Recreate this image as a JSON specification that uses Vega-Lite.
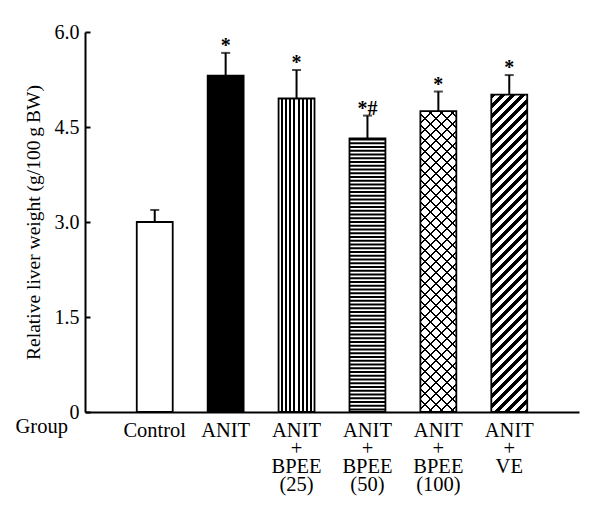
{
"$schema": "https://vega.github.io/schema/vega-lite/v6.json",
"width": 494,
"height": 380,
"autosize": "none",
"padding": {"left": 85, "top": 32, "right": 21, "bottom": 118},
"background": "white",
"config": {"view": {"stroke": null}, "font": "Liberation Serif"},
"data": {"values": [
{"group": "Control", "value": 3.0, "upper": 3.19, "sig": ""},
{"group": "ANIT", "value": 5.31, "upper": 5.67, "sig": "*"},
{"group": "ANIT + BPEE (25)", "value": 4.95, "upper": 5.4, "sig": "*"},
{"group": "ANIT + BPEE (50)", "value": 4.32, "upper": 4.68, "sig": "*#"},
{"group": "ANIT + BPEE (100)", "value": 4.75, "upper": 5.06, "sig": "*"},
{"group": "ANIT + VE", "value": 5.01, "upper": 5.32, "sig": "*"}
]},
"encoding": {
"x": {"field": "group", "type": "nominal", "sort": null, "title": "Group",
"scale": {"paddingInner": 0.493, "paddingOuter": 0.73},
"axis": {"labelAngle": 0, "labelExpr": "split(datum.value, ' ')", "labelFont": "Liberation Serif", "labelFontSize": 20.5, "labelColor": "black", "labelLineHeight": 18, "labelPadding": 8, "labelBaseline": "top", "labelOverlap": false, "labelBound": false, "ticks": false, "tickSize": 0, "domainColor": "black", "domainWidth": 2, "titleFont": "Liberation Serif", "titleFontSize": 20.5, "titleFontWeight": "normal", "titleColor": "black", "titleX": -70, "titleY": 20, "titleAlign": "left", "titleBaseline": "alphabetic", "titleAngle": 0}},
"y": {"field": "value", "type": "quantitative", "title": "Relative liver weight (g/100\u2009g\u2009BW)",
"scale": {"domain": [0, 6], "nice": false},
"axis": {"values": [0, 1.5, 3, 4.5, 6], "labelExpr": "datum.value === 0 ? '0' : format(datum.value, '.1f')", "grid": false, "tickSize": -5, "tickWidth": 2, "tickColor": "black", "domainColor": "black", "domainWidth": 2, "labelFont": "Liberation Serif", "labelFontSize": 20, "labelColor": "black", "labelPadding": 11, "titleFont": "Liberation Serif", "titleFontSize": 19.5, "titleFontWeight": "normal", "titleColor": "black", "titleX": -46, "titleY": 190, "titleAlign": "center", "titleBaseline": "alphabetic", "titleAngle": -90}}
},
"layer": [
{"mark": {"type": "bar", "strokeWidth": 0},
 "encoding": {"fill": {"condition": {"test": "datum.group === 'ANIT'", "value": "black"}, "value": "white"}}},
{"transform": [{"filter": "datum.group === 'ANIT + BPEE (25)'"}],
 "mark": {"type": "bar", "strokeWidth": 0, "fill": {"gradient": "linear", "x1": 0, "y1": 0, "x2": 1, "y2": 0, "stops": [
{"offset":0,"color":"#fff"},{"offset":0.0588,"color":"#fff"},{"offset":0.0588,"color":"#000"},{"offset":0.1176,"color":"#000"},{"offset":0.1176,"color":"#fff"},{"offset":0.1765,"color":"#fff"},{"offset":0.1765,"color":"#000"},{"offset":0.2353,"color":"#000"},{"offset":0.2353,"color":"#fff"},{"offset":0.2941,"color":"#fff"},{"offset":0.2941,"color":"#000"},{"offset":0.3529,"color":"#000"},{"offset":0.3529,"color":"#fff"},{"offset":0.4118,"color":"#fff"},{"offset":0.4118,"color":"#000"},{"offset":0.4706,"color":"#000"},{"offset":0.4706,"color":"#fff"},{"offset":0.5294,"color":"#fff"},{"offset":0.5294,"color":"#000"},{"offset":0.5882,"color":"#000"},{"offset":0.5882,"color":"#fff"},{"offset":0.6471,"color":"#fff"},{"offset":0.6471,"color":"#000"},{"offset":0.7059,"color":"#000"},{"offset":0.7059,"color":"#fff"},{"offset":0.7647,"color":"#fff"},{"offset":0.7647,"color":"#000"},{"offset":0.8235,"color":"#000"},{"offset":0.8235,"color":"#fff"},{"offset":0.8824,"color":"#fff"},{"offset":0.8824,"color":"#000"},{"offset":0.9412,"color":"#000"},{"offset":0.9412,"color":"#fff"},{"offset":1,"color":"#fff"}
 ]}}},
{"transform": [{"filter": "datum.group === 'ANIT + BPEE (50)'"}],
 "mark": {"type": "rule", "color": "black", "strokeWidth": 36, "strokeCap": "butt", "strokeDash": [2, 1.75]},
 "encoding": {"y2": {"datum": 0}}},
{"transform": [{"filter": "datum.group === 'ANIT + BPEE (100)'"}],
 "mark": {"type": "bar", "strokeWidth": 0, "fill": {"gradient": "linear", "x1": 0, "y1": 0, "x2": 0.2154, "y2": 1.8035, "stops": [
{"offset":0,"color":"#000"},{"offset":0.004,"color":"#000"},{"offset":0.004,"color":"transparent"},
{"offset":0.02,"color":"transparent"},{"offset":0.02,"color":"#000"},{"offset":0.024,"color":"#000"},{"offset":0.024,"color":"transparent"},
{"offset":0.04,"color":"transparent"},{"offset":0.04,"color":"#000"},{"offset":0.044,"color":"#000"},{"offset":0.044,"color":"transparent"},
{"offset":0.06,"color":"transparent"},{"offset":0.06,"color":"#000"},{"offset":0.064,"color":"#000"},{"offset":0.064,"color":"transparent"},
{"offset":0.08,"color":"transparent"},{"offset":0.08,"color":"#000"},{"offset":0.084,"color":"#000"},{"offset":0.084,"color":"transparent"},
{"offset":0.1,"color":"transparent"},{"offset":0.1,"color":"#000"},{"offset":0.104,"color":"#000"},{"offset":0.104,"color":"transparent"},
{"offset":0.12,"color":"transparent"},{"offset":0.12,"color":"#000"},{"offset":0.124,"color":"#000"},{"offset":0.124,"color":"transparent"},
{"offset":0.14,"color":"transparent"},{"offset":0.14,"color":"#000"},{"offset":0.144,"color":"#000"},{"offset":0.144,"color":"transparent"},
{"offset":0.16,"color":"transparent"},{"offset":0.16,"color":"#000"},{"offset":0.164,"color":"#000"},{"offset":0.164,"color":"transparent"},
{"offset":0.18,"color":"transparent"},{"offset":0.18,"color":"#000"},{"offset":0.184,"color":"#000"},{"offset":0.184,"color":"transparent"},
{"offset":0.2,"color":"transparent"},{"offset":0.2,"color":"#000"},{"offset":0.204,"color":"#000"},{"offset":0.204,"color":"transparent"},
{"offset":0.22,"color":"transparent"},{"offset":0.22,"color":"#000"},{"offset":0.224,"color":"#000"},{"offset":0.224,"color":"transparent"},
{"offset":0.24,"color":"transparent"},{"offset":0.24,"color":"#000"},{"offset":0.244,"color":"#000"},{"offset":0.244,"color":"transparent"},
{"offset":0.26,"color":"transparent"},{"offset":0.26,"color":"#000"},{"offset":0.264,"color":"#000"},{"offset":0.264,"color":"transparent"},
{"offset":0.28,"color":"transparent"},{"offset":0.28,"color":"#000"},{"offset":0.284,"color":"#000"},{"offset":0.284,"color":"transparent"},
{"offset":0.3,"color":"transparent"},{"offset":0.3,"color":"#000"},{"offset":0.304,"color":"#000"},{"offset":0.304,"color":"transparent"},
{"offset":0.32,"color":"transparent"},{"offset":0.32,"color":"#000"},{"offset":0.324,"color":"#000"},{"offset":0.324,"color":"transparent"},
{"offset":0.34,"color":"transparent"},{"offset":0.34,"color":"#000"},{"offset":0.344,"color":"#000"},{"offset":0.344,"color":"transparent"},
{"offset":0.36,"color":"transparent"},{"offset":0.36,"color":"#000"},{"offset":0.364,"color":"#000"},{"offset":0.364,"color":"transparent"},
{"offset":0.38,"color":"transparent"},{"offset":0.38,"color":"#000"},{"offset":0.384,"color":"#000"},{"offset":0.384,"color":"transparent"},
{"offset":0.4,"color":"transparent"},{"offset":0.4,"color":"#000"},{"offset":0.404,"color":"#000"},{"offset":0.404,"color":"transparent"},
{"offset":0.42,"color":"transparent"},{"offset":0.42,"color":"#000"},{"offset":0.424,"color":"#000"},{"offset":0.424,"color":"transparent"},
{"offset":0.44,"color":"transparent"},{"offset":0.44,"color":"#000"},{"offset":0.444,"color":"#000"},{"offset":0.444,"color":"transparent"},
{"offset":0.46,"color":"transparent"},{"offset":0.46,"color":"#000"},{"offset":0.464,"color":"#000"},{"offset":0.464,"color":"transparent"},
{"offset":0.48,"color":"transparent"},{"offset":0.48,"color":"#000"},{"offset":0.484,"color":"#000"},{"offset":0.484,"color":"transparent"},
{"offset":0.5,"color":"transparent"},{"offset":0.5,"color":"#000"},{"offset":0.504,"color":"#000"},{"offset":0.504,"color":"transparent"},
{"offset":0.52,"color":"transparent"},{"offset":0.52,"color":"#000"},{"offset":0.524,"color":"#000"},{"offset":0.524,"color":"transparent"},
{"offset":0.54,"color":"transparent"},{"offset":0.54,"color":"#000"},{"offset":0.544,"color":"#000"},{"offset":0.544,"color":"transparent"},
{"offset":0.56,"color":"transparent"},{"offset":0.56,"color":"#000"},{"offset":0.564,"color":"#000"},{"offset":0.564,"color":"transparent"},
{"offset":0.58,"color":"transparent"},{"offset":0.58,"color":"#000"},{"offset":0.584,"color":"#000"},{"offset":0.584,"color":"transparent"},
{"offset":0.6,"color":"transparent"},{"offset":0.6,"color":"#000"},{"offset":0.604,"color":"#000"},{"offset":0.604,"color":"transparent"},
{"offset":0.62,"color":"transparent"},{"offset":0.62,"color":"#000"},{"offset":0.624,"color":"#000"},{"offset":0.624,"color":"transparent"}
 ]}}},
{"transform": [{"filter": "datum.group === 'ANIT + BPEE (100)'"}],
 "mark": {"type": "bar", "strokeWidth": 0, "fill": {"gradient": "linear", "x1": 0, "y1": 1, "x2": 0.2154, "y2": -0.8035, "stops": [
{"offset":0,"color":"#000"},{"offset":0.004,"color":"#000"},{"offset":0.004,"color":"transparent"},
{"offset":0.02,"color":"transparent"},{"offset":0.02,"color":"#000"},{"offset":0.024,"color":"#000"},{"offset":0.024,"color":"transparent"},
{"offset":0.04,"color":"transparent"},{"offset":0.04,"color":"#000"},{"offset":0.044,"color":"#000"},{"offset":0.044,"color":"transparent"},
{"offset":0.06,"color":"transparent"},{"offset":0.06,"color":"#000"},{"offset":0.064,"color":"#000"},{"offset":0.064,"color":"transparent"},
{"offset":0.08,"color":"transparent"},{"offset":0.08,"color":"#000"},{"offset":0.084,"color":"#000"},{"offset":0.084,"color":"transparent"},
{"offset":0.1,"color":"transparent"},{"offset":0.1,"color":"#000"},{"offset":0.104,"color":"#000"},{"offset":0.104,"color":"transparent"},
{"offset":0.12,"color":"transparent"},{"offset":0.12,"color":"#000"},{"offset":0.124,"color":"#000"},{"offset":0.124,"color":"transparent"},
{"offset":0.14,"color":"transparent"},{"offset":0.14,"color":"#000"},{"offset":0.144,"color":"#000"},{"offset":0.144,"color":"transparent"},
{"offset":0.16,"color":"transparent"},{"offset":0.16,"color":"#000"},{"offset":0.164,"color":"#000"},{"offset":0.164,"color":"transparent"},
{"offset":0.18,"color":"transparent"},{"offset":0.18,"color":"#000"},{"offset":0.184,"color":"#000"},{"offset":0.184,"color":"transparent"},
{"offset":0.2,"color":"transparent"},{"offset":0.2,"color":"#000"},{"offset":0.204,"color":"#000"},{"offset":0.204,"color":"transparent"},
{"offset":0.22,"color":"transparent"},{"offset":0.22,"color":"#000"},{"offset":0.224,"color":"#000"},{"offset":0.224,"color":"transparent"},
{"offset":0.24,"color":"transparent"},{"offset":0.24,"color":"#000"},{"offset":0.244,"color":"#000"},{"offset":0.244,"color":"transparent"},
{"offset":0.26,"color":"transparent"},{"offset":0.26,"color":"#000"},{"offset":0.264,"color":"#000"},{"offset":0.264,"color":"transparent"},
{"offset":0.28,"color":"transparent"},{"offset":0.28,"color":"#000"},{"offset":0.284,"color":"#000"},{"offset":0.284,"color":"transparent"},
{"offset":0.3,"color":"transparent"},{"offset":0.3,"color":"#000"},{"offset":0.304,"color":"#000"},{"offset":0.304,"color":"transparent"},
{"offset":0.32,"color":"transparent"},{"offset":0.32,"color":"#000"},{"offset":0.324,"color":"#000"},{"offset":0.324,"color":"transparent"},
{"offset":0.34,"color":"transparent"},{"offset":0.34,"color":"#000"},{"offset":0.344,"color":"#000"},{"offset":0.344,"color":"transparent"},
{"offset":0.36,"color":"transparent"},{"offset":0.36,"color":"#000"},{"offset":0.364,"color":"#000"},{"offset":0.364,"color":"transparent"},
{"offset":0.38,"color":"transparent"},{"offset":0.38,"color":"#000"},{"offset":0.384,"color":"#000"},{"offset":0.384,"color":"transparent"},
{"offset":0.4,"color":"transparent"},{"offset":0.4,"color":"#000"},{"offset":0.404,"color":"#000"},{"offset":0.404,"color":"transparent"},
{"offset":0.42,"color":"transparent"},{"offset":0.42,"color":"#000"},{"offset":0.424,"color":"#000"},{"offset":0.424,"color":"transparent"},
{"offset":0.44,"color":"transparent"},{"offset":0.44,"color":"#000"},{"offset":0.444,"color":"#000"},{"offset":0.444,"color":"transparent"},
{"offset":0.46,"color":"transparent"},{"offset":0.46,"color":"#000"},{"offset":0.464,"color":"#000"},{"offset":0.464,"color":"transparent"},
{"offset":0.48,"color":"transparent"},{"offset":0.48,"color":"#000"},{"offset":0.484,"color":"#000"},{"offset":0.484,"color":"transparent"},
{"offset":0.5,"color":"transparent"},{"offset":0.5,"color":"#000"},{"offset":0.504,"color":"#000"},{"offset":0.504,"color":"transparent"},
{"offset":0.52,"color":"transparent"},{"offset":0.52,"color":"#000"},{"offset":0.524,"color":"#000"},{"offset":0.524,"color":"transparent"},
{"offset":0.54,"color":"transparent"},{"offset":0.54,"color":"#000"},{"offset":0.544,"color":"#000"},{"offset":0.544,"color":"transparent"},
{"offset":0.56,"color":"transparent"},{"offset":0.56,"color":"#000"},{"offset":0.564,"color":"#000"},{"offset":0.564,"color":"transparent"},
{"offset":0.58,"color":"transparent"},{"offset":0.58,"color":"#000"},{"offset":0.584,"color":"#000"},{"offset":0.584,"color":"transparent"},
{"offset":0.6,"color":"transparent"},{"offset":0.6,"color":"#000"},{"offset":0.604,"color":"#000"},{"offset":0.604,"color":"transparent"},
{"offset":0.62,"color":"transparent"},{"offset":0.62,"color":"#000"},{"offset":0.624,"color":"#000"},{"offset":0.624,"color":"transparent"}
 ]}}},
{"transform": [{"filter": "datum.group === 'ANIT + VE'"}],
 "mark": {"type": "bar", "strokeWidth": 0, "fill": {"gradient": "linear", "x1": 0, "y1": 0, "x2": 0.1757, "y2": 1.5525, "stops": [
{"offset":0,"color":"#000"},
{"offset":0.01,"color":"#000"},{"offset":0.01,"color":"#fff"},
{"offset":0.02,"color":"#fff"},{"offset":0.02,"color":"#000"},
{"offset":0.03,"color":"#000"},{"offset":0.03,"color":"#fff"},
{"offset":0.04,"color":"#fff"},{"offset":0.04,"color":"#000"},
{"offset":0.05,"color":"#000"},{"offset":0.05,"color":"#fff"},
{"offset":0.06,"color":"#fff"},{"offset":0.06,"color":"#000"},
{"offset":0.07,"color":"#000"},{"offset":0.07,"color":"#fff"},
{"offset":0.08,"color":"#fff"},{"offset":0.08,"color":"#000"},
{"offset":0.09,"color":"#000"},{"offset":0.09,"color":"#fff"},
{"offset":0.1,"color":"#fff"},{"offset":0.1,"color":"#000"},
{"offset":0.11,"color":"#000"},{"offset":0.11,"color":"#fff"},
{"offset":0.12,"color":"#fff"},{"offset":0.12,"color":"#000"},
{"offset":0.13,"color":"#000"},{"offset":0.13,"color":"#fff"},
{"offset":0.14,"color":"#fff"},{"offset":0.14,"color":"#000"},
{"offset":0.15,"color":"#000"},{"offset":0.15,"color":"#fff"},
{"offset":0.16,"color":"#fff"},{"offset":0.16,"color":"#000"},
{"offset":0.17,"color":"#000"},{"offset":0.17,"color":"#fff"},
{"offset":0.18,"color":"#fff"},{"offset":0.18,"color":"#000"},
{"offset":0.19,"color":"#000"},{"offset":0.19,"color":"#fff"},
{"offset":0.2,"color":"#fff"},{"offset":0.2,"color":"#000"},
{"offset":0.21,"color":"#000"},{"offset":0.21,"color":"#fff"},
{"offset":0.22,"color":"#fff"},{"offset":0.22,"color":"#000"},
{"offset":0.23,"color":"#000"},{"offset":0.23,"color":"#fff"},
{"offset":0.24,"color":"#fff"},{"offset":0.24,"color":"#000"},
{"offset":0.25,"color":"#000"},{"offset":0.25,"color":"#fff"},
{"offset":0.26,"color":"#fff"},{"offset":0.26,"color":"#000"},
{"offset":0.27,"color":"#000"},{"offset":0.27,"color":"#fff"},
{"offset":0.28,"color":"#fff"},{"offset":0.28,"color":"#000"},
{"offset":0.29,"color":"#000"},{"offset":0.29,"color":"#fff"},
{"offset":0.3,"color":"#fff"},{"offset":0.3,"color":"#000"},
{"offset":0.31,"color":"#000"},{"offset":0.31,"color":"#fff"},
{"offset":0.32,"color":"#fff"},{"offset":0.32,"color":"#000"},
{"offset":0.33,"color":"#000"},{"offset":0.33,"color":"#fff"},
{"offset":0.34,"color":"#fff"},{"offset":0.34,"color":"#000"},
{"offset":0.35,"color":"#000"},{"offset":0.35,"color":"#fff"},
{"offset":0.36,"color":"#fff"},{"offset":0.36,"color":"#000"},
{"offset":0.37,"color":"#000"},{"offset":0.37,"color":"#fff"},
{"offset":0.38,"color":"#fff"},{"offset":0.38,"color":"#000"},
{"offset":0.39,"color":"#000"},{"offset":0.39,"color":"#fff"},
{"offset":0.4,"color":"#fff"},{"offset":0.4,"color":"#000"},
{"offset":0.41,"color":"#000"},{"offset":0.41,"color":"#fff"},
{"offset":0.42,"color":"#fff"},{"offset":0.42,"color":"#000"},
{"offset":0.43,"color":"#000"},{"offset":0.43,"color":"#fff"},
{"offset":0.44,"color":"#fff"},{"offset":0.44,"color":"#000"},
{"offset":0.45,"color":"#000"},{"offset":0.45,"color":"#fff"},
{"offset":0.46,"color":"#fff"},{"offset":0.46,"color":"#000"},
{"offset":0.47,"color":"#000"},{"offset":0.47,"color":"#fff"},
{"offset":0.48,"color":"#fff"},{"offset":0.48,"color":"#000"},
{"offset":0.49,"color":"#000"},{"offset":0.49,"color":"#fff"},
{"offset":0.5,"color":"#fff"},{"offset":0.5,"color":"#000"},
{"offset":0.51,"color":"#000"},{"offset":0.51,"color":"#fff"},
{"offset":0.52,"color":"#fff"},{"offset":0.52,"color":"#000"},
{"offset":0.53,"color":"#000"},{"offset":0.53,"color":"#fff"},
{"offset":0.54,"color":"#fff"},{"offset":0.54,"color":"#000"},
{"offset":0.55,"color":"#000"},{"offset":0.55,"color":"#fff"},
{"offset":0.56,"color":"#fff"},{"offset":0.56,"color":"#000"},
{"offset":0.57,"color":"#000"},{"offset":0.57,"color":"#fff"},
{"offset":0.58,"color":"#fff"},{"offset":0.58,"color":"#000"},
{"offset":0.59,"color":"#000"},{"offset":0.59,"color":"#fff"},
{"offset":0.6,"color":"#fff"},{"offset":0.6,"color":"#000"},
{"offset":0.61,"color":"#000"},{"offset":0.61,"color":"#fff"},
{"offset":0.62,"color":"#fff"},{"offset":0.62,"color":"#000"},
{"offset":0.63,"color":"#000"},{"offset":0.63,"color":"#fff"},
{"offset":0.64,"color":"#fff"},{"offset":0.64,"color":"#000"},
{"offset":0.65,"color":"#000"},{"offset":0.65,"color":"#fff"},
{"offset":0.66,"color":"#fff"},{"offset":0.66,"color":"#000"},
{"offset":0.67,"color":"#000"},{"offset":0.67,"color":"#fff"},
{"offset":0.68,"color":"#fff"},{"offset":0.68,"color":"#000"},
{"offset":0.69,"color":"#000"},{"offset":0.69,"color":"#fff"},
{"offset":0.7,"color":"#fff"},{"offset":0.7,"color":"#000"},
{"offset":0.71,"color":"#000"},{"offset":0.71,"color":"#fff"},
{"offset":0.72,"color":"#fff"},{"offset":0.72,"color":"#000"}
 ]}}},
{"mark": {"type": "bar", "fill": "transparent", "stroke": "black", "strokeWidth": 1.8}},
{"mark": {"type": "rule", "color": "black", "strokeWidth": 2},
 "encoding": {"y2": {"field": "upper"}}},
{"mark": {"type": "tick", "color": "black", "thickness": 2, "size": 9, "orient": "horizontal"},
 "encoding": {"y": {"field": "upper", "type": "quantitative", "title": "Relative liver weight (g/100\u2009g\u2009BW)"}}},
{"transform": [{"filter": "datum.sig !== ''"}],
 "mark": {"type": "text", "color": "black", "font": "Liberation Serif", "fontSize": 20, "fontWeight": "bold", "baseline": "alphabetic", "align": "center", "dy": -1},
 "encoding": {"y": {"field": "upper", "type": "quantitative", "title": "Relative liver weight (g/100\u2009g\u2009BW)"}, "text": {"field": "sig"}}}
]
}
